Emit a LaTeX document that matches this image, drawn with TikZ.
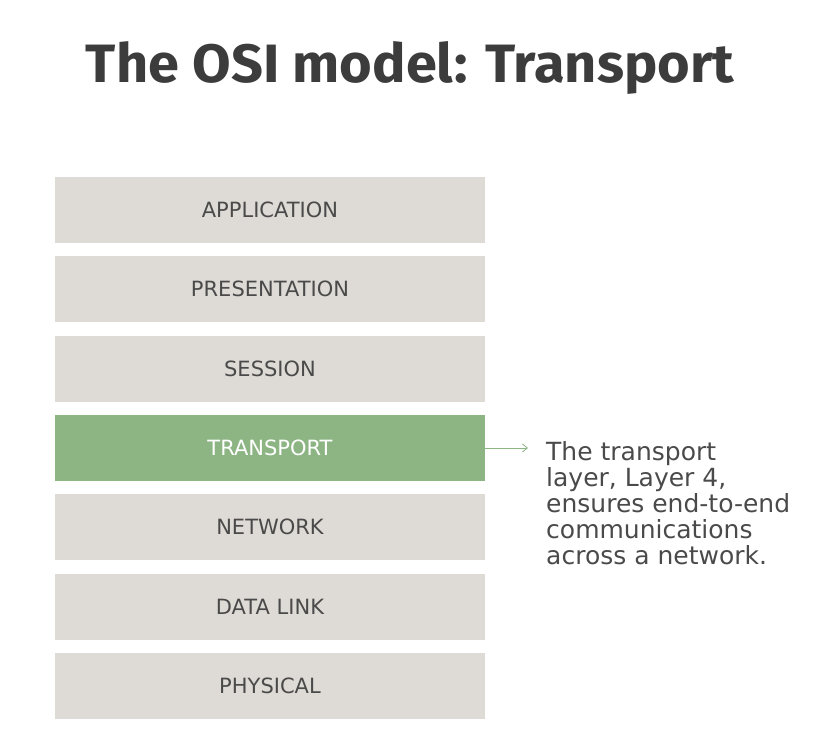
\documentclass[tikz,border=0pt]{standalone}
\usepackage{fontspec}
\setmainfont{DejaVu Sans}
\newfontfamily\titlefont{Fira Sans}
\usepackage{xcolor}
\usepackage{tikz}
\usetikzlibrary{arrows.meta}

\definecolor{layergray}{HTML}{DEDAD5}
\definecolor{layergreen}{HTML}{8DB584}
\definecolor{inkgray}{HTML}{4A4A4A}
\definecolor{titlegray}{HTML}{3C3C3C}

\tikzset{
  layer/.style={fill=layergray, minimum width=430, minimum height=66, inner sep=0,
    text=inkgray, font=\fontsize{21}{21}\selectfont},
  active/.style={layer, fill=layergreen, text=white},
  pointer/.style={draw=layergreen, line width=.8, -{Straight Barb[length=5pt,width=8pt]}}
}

\begin{document}
\begin{tikzpicture}[x=1pt, y=-1pt]
    \useasboundingbox (0,0) rectangle (839,735);
    \node[text=titlegray, font=\titlefont\fontsize{54}{54}\bfseries\selectfont, inner sep=0, anchor=base]
      (title) at (410,83) {\scalebox{1.035}[1]{The OSI model: Transport}};
    \node[layer] (application) at (270,210) {APPLICATION};
    \node[layer] (presentation) at (270,289) {PRESENTATION};
    \node[layer] (session) at (270,369) {SESSION};
    \node[active] (transport) at (270,448) {TRANSPORT};
    \node[layer] (network) at (270,527) {NETWORK};
    \node[layer] (datalink) at (270,606.5) {DATA LINK};
    \node[layer] (physical) at (270,686) {PHYSICAL};
    \coordinate (tip) at (528,448);
    \draw[pointer] (transport.east) -- (tip);
    \node[anchor=north west, inner sep=0, align=left, text=inkgray,
      font=\fontsize{25}{26}\selectfont] (note) at (546,441)
      {The transport\\layer, Layer 4,\\ensures end-to-end\\communications\\across a network.};
\end{tikzpicture}
\end{document}
